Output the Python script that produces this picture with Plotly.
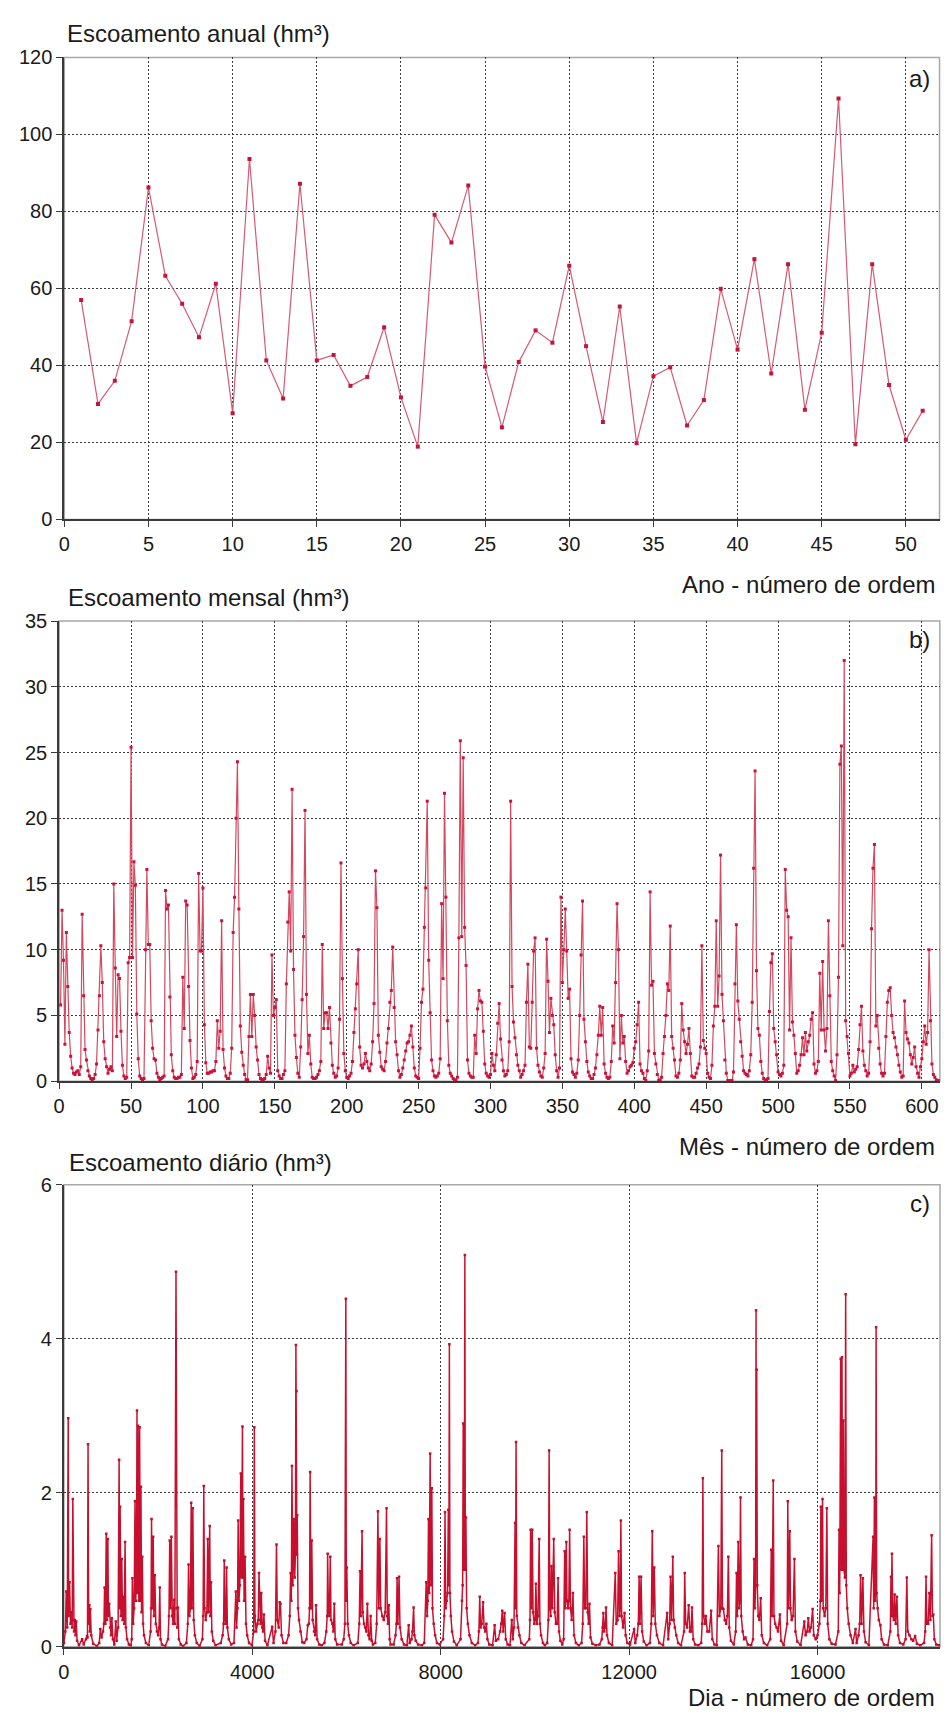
import plotly.graph_objects as go

# ---------------- dados ----------------
anos = list(range(1, 52))
escoamento_anual = [57.0, 30.0, 36.0, 51.5, 86.2, 63.3, 56.0, 47.3, 61.2, 27.6,
                    93.6, 41.3, 31.4, 87.2, 41.3, 42.7, 34.7, 37.0, 49.9, 31.7,
                    18.9, 79.1, 71.9, 86.7, 39.7, 23.9, 40.9, 49.1, 45.9, 65.9,
                    45.0, 25.3, 55.3, 19.8, 37.2, 39.5, 24.4, 31.0, 59.9, 44.1,
                    67.6, 37.9, 66.3, 28.5, 48.5, 109.3, 19.5, 66.3, 34.9, 20.7, 28.2]

# escoamento mensal (hm3), um ano hidrológico por linha
mensal_por_ano = [
    [5.8, 13.0, 9.2, 2.8, 11.3, 7.2, 3.7, 1.9, 1.0, 0.6, 0.5, 0.7],
    [0.8, 0.5, 1.1, 12.7, 6.5, 2.4, 1.6, 0.8, 0.4, 0.2, 0.1, 0.2],
    [0.5, 1.3, 3.9, 6.5, 10.3, 7.5, 3.0, 1.7, 1.1, 0.6, 0.9, 1.1],
    [0.8, 15.0, 8.6, 3.4, 8.1, 7.8, 3.8, 1.2, 0.4, 0.2, 0.3, 9.0],
    [9.4, 25.4, 9.4, 16.7, 14.9, 5.1, 1.7, 0.4, 0.2, 0.1, 0.2, 10.0],
    [16.1, 10.4, 10.4, 4.6, 2.5, 1.7, 1.6, 0.6, 0.3, 0.1, 0.2, 0.3],
    [0.4, 14.5, 13.1, 13.4, 6.4, 2.0, 0.8, 0.3, 0.2, 0.2, 0.3, 0.3],
    [0.5, 7.9, 4.0, 13.7, 13.4, 7.2, 3.1, 1.0, 0.2, 0.3, 0.5, 1.5],
    [15.8, 9.9, 9.9, 14.7, 4.3, 1.4, 0.6, 0.6, 0.7, 0.7, 0.8, 0.8],
    [1.5, 4.6, 2.5, 3.8, 12.2, 2.4, 1.0, 0.4, 0.2, 0.2, 0.6, 2.5],
    [11.3, 14.0, 20.0, 24.3, 13.1, 4.2, 2.2, 1.2, 0.5, 0.1, 0.1, 3.4],
    [6.6, 3.4, 6.6, 5.0, 2.6, 1.6, 0.5, 0.2, 0.1, 0.1, 0.2, 0.5],
    [1.9, 1.0, 0.6, 9.6, 5.0, 5.6, 6.2, 0.8, 0.4, 0.2, 0.2, 0.5],
    [0.8, 7.4, 12.1, 14.4, 9.9, 22.2, 8.5, 3.5, 1.8, 0.6, 0.3, 2.6],
    [6.2, 11.0, 20.6, 6.6, 2.1, 3.5, 1.3, 0.3, 0.2, 0.2, 0.3, 0.5],
    [0.8, 1.5, 10.4, 4.0, 5.2, 5.2, 4.0, 5.6, 2.9, 1.2, 0.6, 0.3],
    [0.4, 1.0, 4.7, 16.6, 7.8, 2.1, 0.8, 0.3, 0.2, 0.4, 0.6, 1.5],
    [3.7, 5.5, 7.4, 10.0, 2.6, 1.2, 1.0, 1.3, 2.1, 1.5, 1.0, 0.8],
    [1.3, 3.0, 5.9, 16.0, 13.2, 3.5, 2.2, 1.1, 0.9, 0.8, 1.5, 2.9],
    [4.0, 6.0, 6.9, 10.2, 5.6, 3.0, 2.0, 0.8, 0.3, 0.5, 1.0, 1.6],
    [2.3, 2.9, 3.0, 3.5, 4.2, 2.6, 1.0, 0.4, 0.3, 0.2, 2.5, 6.0],
    [7.0, 11.7, 14.7, 21.3, 9.2, 5.2, 1.6, 0.8, 0.4, 0.3, 0.4, 0.6],
    [1.7, 13.5, 7.8, 21.9, 14.0, 4.6, 1.2, 0.6, 0.4, 0.2, 0.1, 0.05],
    [0.3, 10.9, 25.9, 11.0, 24.6, 11.7, 8.8, 1.6, 0.6, 0.4, 0.3, 0.3],
    [3.5, 2.1, 5.5, 6.9, 6.1, 6.0, 3.8, 1.3, 0.6, 0.4, 0.3, 0.5],
    [2.1, 1.2, 0.8, 2.0, 4.4, 5.9, 3.2, 1.6, 0.8, 0.4, 0.5, 0.8],
    [3.0, 21.3, 7.2, 4.5, 3.3, 2.0, 1.2, 0.8, 0.3, 0.5, 0.8, 1.2],
    [6.0, 8.9, 2.6, 2.5, 6.0, 9.9, 10.9, 2.5, 1.2, 0.7, 0.4, 0.3],
    [1.0, 2.1, 10.8, 7.6, 3.7, 6.3, 5.0, 4.3, 2.0, 0.8, 0.3, 1.0],
    [14.0, 7.5, 10.0, 13.1, 9.9, 6.3, 7.0, 1.7, 0.7, 0.5, 0.3, 0.6],
    [1.6, 5.0, 9.6, 13.7, 4.7, 3.0, 1.5, 0.7, 0.4, 0.2, 0.2, 0.5],
    [1.0, 2.0, 3.5, 5.7, 3.5, 5.6, 1.3, 0.6, 0.3, 0.2, 0.3, 1.5],
    [4.2, 2.9, 7.5, 13.5, 10.0, 1.7, 5.0, 2.9, 3.4, 1.5, 0.6, 0.8],
    [1.1, 1.2, 1.4, 2.5, 3.0, 4.3, 6.0, 1.3, 0.8, 0.6, 0.2, 0.05],
    [0.8, 2.3, 14.4, 7.3, 7.6, 2.1, 1.3, 0.5, 0.05, 0.1, 0.3, 2.1],
    [3.4, 5.0, 7.4, 6.9, 11.8, 3.4, 2.5, 1.6, 0.4, 0.3, 0.6, 1.6],
    [5.9, 3.9, 3.0, 2.1, 2.8, 4.0, 2.1, 0.4, 0.3, 0.3, 0.6, 1.0],
    [1.3, 2.6, 10.3, 3.1, 2.5, 2.1, 0.6, 0.3, 0.2, 1.2, 4.2, 5.7],
    [12.2, 5.7, 8.0, 17.2, 6.6, 4.6, 1.6, 0.6, 0.05, 0.05, 0.05, 0.05],
    [0.7, 7.4, 11.9, 6.1, 4.7, 3.0, 1.9, 0.8, 0.6, 0.5, 0.4, 0.8],
    [2.0, 6.0, 16.2, 23.6, 8.4, 4.0, 3.5, 1.5, 0.6, 0.2, 0.05, 0.1],
    [0.2, 5.3, 9.0, 9.7, 4.0, 3.0, 2.0, 0.7, 0.5, 0.4, 0.6, 1.2],
    [16.1, 13.0, 12.5, 3.9, 10.9, 4.5, 3.5, 2.1, 0.6, 0.8, 1.2, 2.0],
    [3.3, 2.0, 3.7, 2.3, 3.0, 3.5, 4.7, 5.2, 1.3, 0.6, 0.8, 1.5],
    [8.2, 3.9, 9.1, 3.9, 2.3, 4.0, 12.2, 6.5, 1.5, 0.8, 0.4, 0.05],
    [2.0, 7.9, 24.1, 25.5, 10.3, 32.0, 4.6, 3.4, 2.1, 0.4, 0.6, 1.2],
    [0.7, 0.9, 1.1, 2.4, 4.3, 5.7, 2.3, 1.2, 0.8, 0.4, 0.6, 3.0],
    [11.6, 16.2, 18.0, 4.2, 5.0, 2.5, 1.3, 0.6, 0.4, 0.6, 3.4, 6.0],
    [6.9, 7.1, 5.0, 3.7, 3.3, 2.6, 2.0, 1.2, 0.7, 0.3, 0.4, 6.1],
    [3.7, 3.2, 2.9, 2.0, 1.3, 1.8, 2.6, 1.1, 0.6, 0.3, 1.1, 1.7],
    [3.0, 4.2, 2.8, 3.7, 10.0, 4.6, 1.3, 0.5, 0.3, 0.1, 0.05, 0.05],
]
escoamento_mensal = [v for linha in mensal_por_ano for v in linha]
meses = list(range(1, len(escoamento_mensal) + 1))

# escoamento diário (hm3): pares (dia, valor) de pontas e cavas de cada época húmida
serie_diaria = [
    (0, 0.05), (30, 0.2), (49, 0.72), (70, 0.25), (91, 2.97), (100, 0.4), (119, 0.84), (140, 0.3),
    (160, 0.45), (175, 0.25), (189, 1.92), (200, 0.35), (215, 0.2), (232, 0.35), (245, 0.15), (260, 0.33),
    (280, 0.08), (320, 0.02),
    (386, 0.1), (420, 0.03), (470, 0.1), (491, 0.14), (500, 0.12), (512, 2.63), (525, 0.3), (540, 0.54),
    (550, 0.2), (561, 0.49), (580, 0.15), (620, 0.04), (700, 0.01),
    (750, 0.05), (772, 0.23), (800, 0.12), (830, 0.2), (850, 0.3), (863, 0.77), (880, 0.3), (898, 1.47),
    (915, 0.35), (933, 1.40), (945, 0.4), (961, 0.56), (980, 0.25), (1000, 0.15), (1018, 0.37), (1040, 0.1),
    (1070, 0.03),
    (1102, 0.33), (1120, 0.08), (1150, 0.25), (1172, 2.43), (1182, 0.5), (1193, 1.82), (1210, 0.4),
    (1228, 1.14), (1245, 0.35), (1263, 0.65), (1280, 0.3), (1298, 1.36), (1315, 0.25), (1340, 0.1),
    (1380, 0.03), (1420, 0.02),
    (1440, 0.1), (1453, 0.89), (1470, 0.3), (1490, 0.5), (1509, 1.89), (1525, 0.6), (1540, 0.9),
    (1551, 3.07), (1560, 0.7), (1572, 2.87), (1590, 0.6), (1607, 2.85), (1620, 0.6), (1635, 2.08),
    (1648, 0.45), (1663, 1.17), (1680, 0.3), (1700, 0.15), (1740, 0.05), (1800, 0.02),
    (1840, 0.2), (1850, 0.5), (1860, 1.66), (1875, 0.5), (1895, 1.43), (1910, 0.4), (1930, 0.93),
    (1950, 0.3), (1975, 0.2), (2000, 0.15), (2020, 0.25), (2035, 0.77), (2050, 0.1), (2080, 0.03),
    (2150, 0.01),
    (2210, 0.1), (2230, 0.4), (2246, 1.38), (2262, 0.5), (2281, 1.43), (2300, 0.4), (2320, 0.3),
    (2337, 0.61), (2355, 0.3), (2379, 4.87), (2390, 0.5), (2405, 0.25), (2421, 0.51), (2440, 0.1),
    (2480, 0.03), (2530, 0.01),
    (2600, 0.05), (2630, 0.3), (2646, 1.07), (2665, 0.4), (2685, 0.5), (2702, 1.87), (2718, 0.5),
    (2737, 1.80), (2755, 0.35), (2780, 0.15), (2820, 0.05), (2880, 0.01),
    (2940, 0.1), (2955, 0.4), (2969, 2.09), (2985, 0.5), (3010, 0.35), (3035, 0.45), (3053, 1.40),
    (3070, 0.45), (3095, 1.57), (3108, 0.4), (3123, 0.84), (3140, 0.2), (3170, 0.08), (3220, 0.02),
    (3330, 0.05), (3370, 0.15), (3390, 0.3), (3404, 1.12), (3420, 0.35), (3440, 0.3), (3453, 1.03),
    (3470, 0.25), (3500, 0.1), (3550, 0.03), (3610, 0.05),
    (3650, 0.72), (3665, 0.25), (3685, 0.5), (3699, 1.64), (3715, 0.6), (3735, 0.8), (3755, 2.25),
    (3770, 0.9), (3790, 2.86), (3800, 0.9), (3811, 1.92), (3825, 0.6), (3846, 1.17), (3865, 0.3),
    (3890, 0.15), (3930, 0.05), (3990, 0.02),
    (4030, 0.2), (4042, 2.85), (4055, 0.4), (4080, 0.2), (4110, 0.3), (4125, 0.35), (4141, 0.96),
    (4160, 0.35), (4175, 0.3), (4190, 0.70), (4210, 0.25), (4230, 0.2), (4246, 0.42), (4270, 0.08),
    (4320, 0.02),
    (4421, 0.26), (4450, 0.05), (4490, 0.2), (4513, 1.33), (4530, 0.35), (4560, 0.25), (4581, 0.58),
    (4597, 0.56), (4620, 0.15), (4660, 0.05), (4720, 0.05),
    (4770, 0.15), (4795, 0.4), (4813, 0.96), (4828, 0.6), (4841, 2.35), (4860, 0.8), (4883, 1.66),
    (4900, 0.9), (4915, 1.2), (4925, 3.92), (4932, 1.5), (4939, 3.32), (4946, 1.2), (4953, 1.71),
    (4970, 0.5), (4990, 0.35), (5020, 0.2), (5060, 0.06), (5100, 0.05),
    (5150, 0.1), (5178, 0.28), (5200, 0.3), (5215, 0.5), (5227, 2.27), (5245, 0.5), (5262, 1.38),
    (5280, 0.35), (5310, 0.2), (5335, 0.15), (5353, 0.54), (5375, 0.1), (5420, 0.03), (5470, 0.02),
    (5530, 0.05), (5570, 0.2), (5590, 0.4), (5599, 1.21), (5615, 0.45), (5635, 0.4), (5655, 1.17),
    (5670, 0.35), (5700, 0.3), (5720, 0.2), (5740, 0.56), (5760, 0.1), (5800, 0.03),
    (5900, 0.03), (5940, 0.1), (5965, 0.3), (5985, 4.52), (5995, 0.6), (6006, 1.03), (6025, 0.3),
    (6050, 0.15), (6090, 0.05), (6150, 0.02),
    (6240, 0.05), (6270, 0.3), (6287, 0.98), (6305, 0.4), (6329, 1.50), (6345, 0.45), (6370, 0.3),
    (6400, 0.25), (6420, 0.2), (6442, 0.56), (6465, 0.15), (6490, 0.1), (6512, 0.40), (6535, 0.08),
    (6560, 0.03),
    (6610, 0.05), (6640, 0.3), (6666, 1.76), (6685, 0.5), (6708, 1.40), (6725, 0.5), (6760, 0.4),
    (6790, 0.35), (6820, 0.45), (6849, 1.80), (6865, 0.4), (6880, 0.3), (6898, 0.54), (6915, 0.1),
    (6935, 0.03),
    (7000, 0.03), (7040, 0.15), (7060, 0.3), (7073, 0.89), (7090, 0.3), (7115, 0.91), (7135, 0.25),
    (7170, 0.1), (7220, 0.03), (7280, 0.02),
    (7319, 0.28), (7340, 0.05), (7380, 0.1), (7400, 0.2), (7424, 0.51), (7440, 0.15), (7470, 0.08),
    (7520, 0.03), (7600, 0.02), (7650, 0.05),
    (7691, 0.84), (7710, 0.4), (7725, 0.6), (7740, 1.66), (7755, 0.7), (7775, 2.51), (7790, 0.8),
    (7810, 2.06), (7825, 0.5), (7850, 0.3), (7880, 0.15), (7920, 0.05), (7980, 0.03),
    (8050, 0.1), (8075, 0.4), (8091, 1.75), (8105, 0.5), (8125, 0.6), (8145, 0.7), (8161, 1.78),
    (8172, 0.8), (8183, 3.93), (8195, 0.7), (8215, 0.4), (8240, 0.2), (8280, 0.07), (8340, 0.02),
    (8420, 0.1), (8450, 0.6), (8465, 0.8), (8477, 2.90), (8490, 1.0), (8500, 1.2), (8512, 5.09),
    (8522, 1.0), (8534, 1.68), (8550, 0.5), (8575, 0.3), (8610, 0.15), (8660, 0.05), (8730, 0.02),
    (8790, 0.05), (8810, 0.2), (8828, 0.65), (8845, 0.25), (8870, 0.3), (8899, 0.58), (8920, 0.25),
    (8945, 0.2), (8969, 0.30), (8990, 0.1), (9030, 0.03), (9100, 0.02),
    (9144, 0.28), (9170, 0.08), (9220, 0.1), (9260, 0.2), (9285, 0.3), (9306, 0.47), (9325, 0.2),
    (9355, 0.44), (9380, 0.1), (9420, 0.03), (9470, 0.02),
    (9508, 0.35), (9530, 0.1), (9555, 0.25), (9578, 1.61), (9588, 0.5), (9599, 2.66), (9615, 0.4),
    (9640, 0.25), (9670, 0.15), (9710, 0.05), (9780, 0.02),
    (9880, 0.1), (9895, 0.35), (9908, 1.52), (9925, 0.5), (9943, 1.52), (9960, 0.45), (9985, 0.3),
    (10005, 0.35), (10020, 0.82), (10040, 0.3), (10065, 0.4), (10090, 1.40), (10105, 0.3),
    (10130, 0.15), (10170, 0.05), (10210, 0.02),
    (10260, 0.05), (10285, 0.35), (10301, 2.55), (10315, 0.5), (10335, 0.4), (10350, 1.05),
    (10370, 0.5), (10399, 1.40), (10420, 0.45), (10445, 0.3), (10470, 0.3), (10491, 0.89),
    (10510, 0.2), (10540, 0.08), (10580, 0.03),
    (10610, 0.1), (10631, 1.24), (10645, 0.5), (10666, 1.36), (10680, 0.6), (10700, 0.5),
    (10720, 0.6), (10736, 1.52), (10755, 0.5), (10780, 0.35), (10807, 0.70), (10830, 0.15),
    (10870, 0.05), (10930, 0.02),
    (10990, 0.05), (11015, 0.3), (11038, 1.43), (11055, 0.5), (11080, 0.5), (11101, 1.75),
    (11120, 0.45), (11140, 0.3), (11158, 0.56), (11180, 0.12), (11220, 0.04), (11290, 0.02),
    (11370, 0.03), (11420, 0.1), (11440, 0.25), (11452, 0.44), (11470, 0.2), (11490, 0.25),
    (11509, 0.51), (11530, 0.15), (11570, 0.05), (11640, 0.02),
    (11705, 0.96), (11725, 0.3), (11755, 0.35), (11775, 1.24), (11795, 0.4), (11810, 0.5),
    (11824, 1.64), (11840, 0.4), (11870, 0.25), (11902, 0.44), (11925, 0.15), (11960, 0.05),
    (12020, 0.03),
    (12105, 0.23), (12130, 0.05), (12170, 0.15), (12195, 0.3), (12211, 0.91), (12230, 0.3),
    (12253, 0.91), (12275, 0.2), (12310, 0.07), (12370, 0.02),
    (12440, 0.05), (12470, 0.3), (12491, 1.50), (12510, 0.4), (12533, 1.03), (12555, 0.3),
    (12590, 0.15), (12640, 0.05), (12720, 0.02),
    (12807, 0.44), (12830, 0.1), (12860, 0.3), (12878, 0.91), (12900, 0.35), (12927, 1.17),
    (12945, 0.35), (12970, 0.25), (13000, 0.15), (13040, 0.05), (13100, 0.02),
    (13165, 0.2), (13180, 0.96), (13200, 0.3), (13230, 0.25), (13264, 0.54), (13290, 0.2),
    (13315, 0.2), (13334, 0.51), (13360, 0.1), (13400, 0.03), (13470, 0.02),
    (13530, 0.05), (13550, 0.3), (13565, 2.19), (13580, 0.4), (13605, 0.3), (13629, 0.40),
    (13660, 0.2), (13700, 0.2), (13741, 0.47), (13765, 0.1), (13810, 0.03), (13860, 0.02),
    (13895, 1.31), (13915, 0.4), (13945, 0.5), (13966, 2.55), (13980, 0.5), (14001, 0.49),
    (14030, 0.35), (14060, 0.3), (14085, 0.4), (14106, 1.17), (14125, 0.25), (14160, 0.08),
    (14220, 0.03),
    (14262, 0.2), (14280, 0.96), (14295, 0.4), (14315, 1.36), (14335, 0.5), (14350, 0.6),
    (14364, 1.94), (14380, 0.4), (14410, 0.2), (14440, 0.1), (14470, 0.12), (14520, 0.03),
    (14590, 0.02),
    (14630, 0.1), (14652, 1.14), (14670, 0.5), (14685, 0.8), (14694, 4.37), (14700, 1.2),
    (14708, 3.60), (14720, 0.8), (14740, 0.4), (14765, 0.35), (14793, 0.63), (14815, 0.15),
    (14860, 0.05), (14930, 0.02),
    (14995, 0.1), (15017, 1.26), (15035, 0.4), (15059, 2.16), (15075, 0.4), (15100, 0.3),
    (15130, 0.25), (15160, 0.2), (15200, 0.42), (15225, 0.08), (15280, 0.02),
    (15355, 0.3), (15368, 1.89), (15385, 0.5), (15410, 1.50), (15425, 0.5), (15450, 0.35),
    (15480, 0.4), (15509, 1.14), (15530, 0.2), (15570, 0.07), (15640, 0.02),
    (15719, 0.33), (15745, 0.15), (15780, 0.2), (15803, 0.37), (15830, 0.2), (15860, 0.25),
    (15895, 0.49), (15920, 0.15), (15960, 0.1), (16000, 0.15), (16040, 0.3), (16060, 0.6),
    (16070, 1.82), (16085, 0.6), (16105, 1.92), (16120, 0.5), (16150, 0.4), (16175, 0.5),
    (16197, 1.80), (16215, 0.3), (16250, 0.1), (16300, 0.04), (16380, 0.03),
    (16440, 0.2), (16456, 1.52), (16470, 0.7), (16491, 3.74), (16505, 1.0), (16519, 3.76),
    (16530, 1.0), (16548, 2.94), (16560, 1.0), (16580, 0.9), (16597, 4.58), (16610, 0.8),
    (16630, 0.5), (16660, 0.3), (16700, 0.15), (16750, 0.05),
    (16807, 0.23), (16830, 0.05), (16870, 0.15), (16895, 0.3), (16913, 0.93), (16935, 0.3),
    (16962, 0.89), (16985, 0.2), (17020, 0.06), (17090, 0.02),
    (17179, 1.43), (17192, 0.5), (17207, 1.94), (17222, 0.6), (17235, 0.8), (17243, 4.15),
    (17255, 0.7), (17275, 0.5), (17300, 0.35), (17334, 0.28), (17360, 0.1), (17410, 0.03),
    (17490, 0.02),
    (17545, 0.2), (17558, 0.91), (17568, 0.4), (17579, 1.21), (17600, 0.4), (17620, 0.35),
    (17636, 0.68), (17660, 0.3), (17685, 0.65), (17710, 0.15), (17750, 0.05), (17820, 0.03),
    (17870, 0.1),
    (17895, 0.90), (17915, 0.2), (17950, 0.15), (17990, 0.1), (18030, 0.08), (18071, 0.14),
    (18110, 0.04), (18180, 0.02), (18260, 0.05),
    (18285, 0.2), (18303, 0.91), (18320, 0.3), (18350, 0.3), (18373, 0.70), (18395, 0.35),
    (18422, 1.45), (18440, 0.4), (18457, 0.42), (18480, 0.1), (18520, 0.03), (18580, 0.02),
]
dias = [d for d, _ in serie_diaria]
escoamento_diario = [v for _, v in serie_diaria]

# ---------------- aspeto ----------------
W, H = 944, 1722
FONT = "Liberation Sans, Arial, sans-serif"
TXT = "#1a1a1a"
GRID = "#3c3c3c"

# caixas dos três gráficos em píxeis: (esquerda, direita, topo, base)
caixas = {
    "a": (58.7, 939.5, 47, 515),
    "b": (53.5, 939.8, 618, 1084),
    "c": (58.3, 940.0, 1189, 1657),
}


def px_x(x):
    return x / W


def px_y(y):
    return 1 - y / H


fig = go.Figure()

fig.add_trace(go.Scatter(
    x=anos, y=escoamento_anual, mode="lines+markers",
    line=dict(color="#d65a73", width=1.2),
    marker=dict(symbol="square", size=4, color="#c0163c"),
    xaxis="x", yaxis="y", showlegend=False))

fig.add_trace(go.Scatter(
    x=meses, y=escoamento_mensal, mode="lines+markers",
    line=dict(color="#d3485f", width=1.2),
    marker=dict(symbol="square", size=3, color="#c8143c"),
    xaxis="x2", yaxis="y2", showlegend=False))

fig.add_trace(go.Scatter(
    x=dias, y=escoamento_diario, mode="lines+markers",
    line=dict(color="#c8102e", width=1.5),
    marker=dict(symbol="square", size=2.5, color="#c00f2c"),
    xaxis="x3", yaxis="y3", showlegend=False))

eixos = [("a", "x", "y", [0, 52], 5, [0, 120], 20),
         ("b", "x2", "y2", [0, 612.5], 50, [0, 35], 5),
         ("c", "x3", "y3", [0, 18600], 4000, [0, 6], 2)]

layout_axes = {}
shapes = []
for nome, xa, ya, xr, xd, yr, yd in eixos:
    l, r, t, b = caixas[nome]
    xkey = "xaxis" if xa == "x" else "xaxis" + xa[1:]
    ykey = "yaxis" if ya == "y" else "yaxis" + ya[1:]
    comum = dict(
        showgrid=True, gridcolor=GRID, gridwidth=1, griddash="2px,2px",
        zeroline=False, showline=True, linecolor="#3a3a3a", linewidth=2,
        ticks="outside", ticklen=6, tickcolor="#3a3a3a", tickwidth=1,
        tickfont=dict(family=FONT, size=20, color=TXT), fixedrange=True,
    )
    layout_axes[xkey] = dict(comum, domain=[px_x(l), px_x(r)], range=xr, dtick=xd,
                             tick0=0, anchor=ya, tickformat="d")
    layout_axes[ykey] = dict(comum, domain=[px_y(b), px_y(t)], range=yr, dtick=yd,
                             tick0=0, anchor=xa)
    # moldura clara (lados de cima e da direita)
    shapes.append(dict(type="rect", xref=xa + " domain", yref=ya + " domain",
                       x0=0, x1=1, y0=0, y1=1, layer="below",
                       line=dict(color="#a8a8a8", width=1.5)))

titulos = [
    ("Escoamento anual (hm³)", 59, 23),
    ("Escoamento mensal (hm³)", 60, 594),
    ("Escoamento diário (hm³)", 61, 1166),
]
titulos_x = [
    ("Ano - número de ordem", 937, 581),
    ("Mês - número de ordem", 937, 1150),
    ("Dia - número de ordem", 937, 1708),
]
letras = [("a)", 932, 68), ("b)", 932, 637), ("c)", 932, 1208)]

annotations = []
for txt, x, y in titulos:
    annotations.append(dict(text=txt, x=px_x(x), y=px_y(y), xref="paper", yref="paper",
                            xanchor="left", yanchor="middle", showarrow=False,
                            font=dict(family=FONT, size=24, color=TXT)))
for txt, x, y in titulos_x:
    annotations.append(dict(text=txt, x=px_x(x), y=px_y(y), xref="paper", yref="paper",
                            xanchor="right", yanchor="middle", showarrow=False,
                            font=dict(family=FONT, size=24, color=TXT)))
for txt, x, y in letras:
    annotations.append(dict(text=txt, x=px_x(x), y=px_y(y), xref="paper", yref="paper",
                            xanchor="right", yanchor="middle", showarrow=False,
                            font=dict(family=FONT, size=24, color=TXT)))

fig.update_layout(
    width=W, height=H, autosize=False,
    margin=dict(l=0, r=0, t=0, b=0),
    paper_bgcolor="white", plot_bgcolor="white",
    shapes=shapes, annotations=annotations,
    **layout_axes,
)

fig.write_html("out.html", config={"displayModeBar": False})
